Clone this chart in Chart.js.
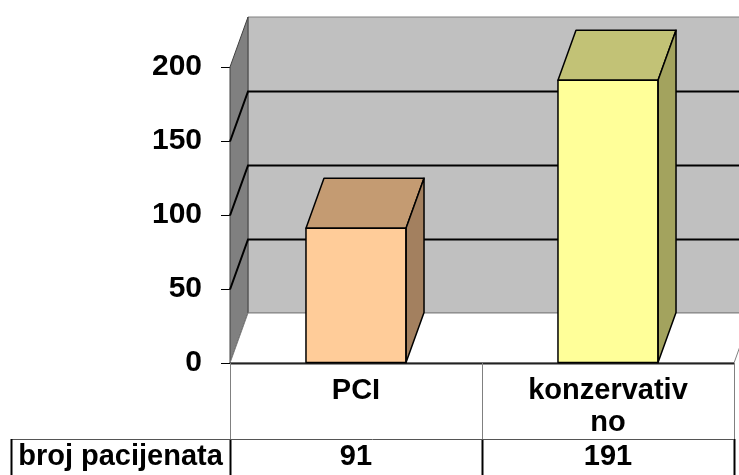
<!DOCTYPE html>
<html><head><meta charset="utf-8">
<script src="https://cdn.jsdelivr.net/npm/chart.js@4/dist/chart.umd.min.js"></script>
<style>html,body{margin:0;padding:0;background:#fff;overflow:hidden}#wrap{width:739px;height:475px}</style>
</head><body><div id="wrap"><canvas id="c" width="739" height="475"></canvas></div>
<script>
const categories = ['PCI', ['konzervativ', 'no']];
const seriesName = 'broj pacijenata';
const values = [91, 191];
const yTicks = [0, 50, 100, 150, 200];
const frontColors = ['#FFCC99', '#FFFF99'];
const topColors = ['#C49B72', '#C2C276'];
const sideColors = ['#A3805F', '#A3A35E'];

const DX = 18, DY = -50;
const FAMILY = '"Liberation Sans", Arial, sans-serif';
const FONT = 'bold 29px ' + FAMILY;

function poly(ctx, pts, fill, stroke, lw) {
  ctx.beginPath();
  ctx.moveTo(pts[0][0], pts[0][1]);
  for (let i = 1; i < pts.length; i++) ctx.lineTo(pts[i][0], pts[i][1]);
  ctx.closePath();
  if (fill) { ctx.fillStyle = fill; ctx.fill(); }
  if (stroke) { ctx.strokeStyle = stroke; ctx.lineWidth = lw || 1; ctx.stroke(); }
}
function line(ctx, x1, y1, x2, y2, color, lw) {
  ctx.beginPath(); ctx.moveTo(x1, y1); ctx.lineTo(x2, y2);
  ctx.strokeStyle = color; ctx.lineWidth = lw; ctx.stroke();
}

const plugin3d = {
  id: 'plugin3d',
  beforeDatasetsDraw(chart) {
    const ctx = chart.ctx;
    const {left, right, top, bottom} = chart.chartArea;
    const ys = chart.scales.y;
    ctx.save();
    // back wall
    poly(ctx, [[left+DX, top+DY], [right+DX, top+DY], [right+DX, bottom+DY], [left+DX, bottom+DY]], '#C0C0C0', '#808080', 1);
    // left wall
    poly(ctx, [[left, top], [left+DX, top+DY], [left+DX, bottom+DY], [left, bottom]], '#808080', '#404040', 1);
    // floor
    poly(ctx, [[left, bottom], [left+DX, bottom+DY], [right+DX, bottom+DY], [right, bottom]], '#FFFFFF', '#808080', 1);
    // gridlines
    yTicks.forEach(v => {
      if (v === yTicks[0] || v === yTicks[yTicks.length-1]) return;
      const py = Math.round(ys.getPixelForValue(v)) + 0.5;
      ctx.beginPath();
      ctx.moveTo(left, py);
      ctx.lineTo(left+DX, py+DY);
      ctx.lineTo(right+DX+5, py+DY);
      ctx.strokeStyle = '#000'; ctx.lineWidth = 2; ctx.stroke();
    });
    // front floor edge
    line(ctx, left, bottom+0.5, right, bottom+0.5, '#222', 2);
    ctx.restore();
  },
  afterDatasetsDraw(chart) {
    const ctx = chart.ctx;
    const meta = chart.getDatasetMeta(0);
    ctx.save();
    ctx.lineJoin = 'round';
    meta.data.forEach((bar, i) => {
      const w = bar.width;
      const l = bar.x - w/2, r = bar.x + w/2, t = bar.y, b = bar.base;
      poly(ctx, [[l, t], [r, t], [r+DX, t+DY], [l+DX, t+DY]], topColors[i], '#000', 1.5);
      poly(ctx, [[r, t], [r+DX, t+DY], [r+DX, b+DY], [r, b]], sideColors[i], '#000', 1.5);
      poly(ctx, [[l, t], [r, t], [r, b], [l, b]], null, '#000', 1.5);
    });
    ctx.restore();
  },
  afterDraw(chart) {
    const ctx = chart.ctx;
    const {left, right, bottom} = chart.chartArea;
    const xs = chart.scales.x;
    const H = chart.height;
    const catW = (right - left) / categories.length;
    const rowY = bottom + 76;
    const tableLeft = 11;
    ctx.save();
    // grid of the data table
    for (let i = 0; i <= categories.length; i++) {
      const px = Math.round(left + i * catW) + 0.5;
      line(ctx, px, bottom, px, rowY, '#808080', 1);
      line(ctx, px, rowY, px, H, '#000', 2);
    }
    line(ctx, tableLeft, rowY + 0.5, right, rowY + 0.5, '#555', 1);
    line(ctx, tableLeft + 0.5, rowY, tableLeft + 0.5, H, '#000', 2);
    // texts
    ctx.fillStyle = '#000';
    ctx.font = FONT;
    ctx.textAlign = 'center';
    ctx.textBaseline = 'middle';
    categories.forEach((c, i) => {
      const cx = xs.getPixelForValue(i);
      const lines = Array.isArray(c) ? c : [c];
      lines.forEach((t, k) => ctx.fillText(t, cx, bottom + 28 + k * 32));
      ctx.fillText(String(values[i]), cx, rowY + 18);
    });
    ctx.fillText(seriesName, (tableLeft + left) / 2, rowY + 18);
    ctx.restore();
  }
};

new Chart(document.getElementById('c'), {
  type: 'bar',
  data: {
    labels: categories,
    datasets: [{
      label: seriesName,
      data: values,
      backgroundColor: frontColors,
      borderColor: '#000',
      borderWidth: 0,
      barPercentage: 0.794,
      categoryPercentage: 0.5
    }]
  },
  options: {
    responsive: false,
    animation: false,
    devicePixelRatio: 1,
    layout: {padding: {top: 67, right: 5, bottom: 112, left: 0}},
    plugins: {legend: {display: false}, tooltip: {enabled: false}},
    scales: {
      x: {display: false},
      y: {
        min: 0, max: 200,
        afterFit(s) { s.width = 230; },
        afterBuildTicks(s) { s.ticks = yTicks.map(v => ({value: v})); },
        ticks: {color: '#000', padding: 19, font: {family: FAMILY, size: 30, weight: 'bold'}},
        grid: {drawOnChartArea: false, drawTicks: true, tickLength: 9, color: '#000', lineWidth: 1},
        border: {display: false}
      }
    }
  },
  plugins: [plugin3d]
});
</script>
</body></html>
